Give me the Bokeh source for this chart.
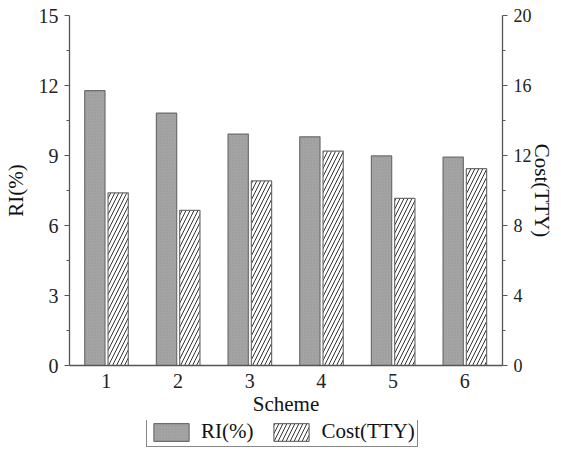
from bokeh.plotting import figure
from bokeh.models import Range1d, LinearAxis, FixedTicker, Legend, LegendItem, ColumnDataSource
from bokeh.layouts import column
from bokeh.transform import dodge
from bokeh.embed import file_html
from bokeh.resources import INLINE

schemes = [1, 2, 3, 4, 5, 6]
ri = [11.78, 10.82, 9.92, 9.8, 8.98, 8.93]
cost = [9.87, 8.87, 10.55, 12.25, 9.55, 11.25]

src = ColumnDataSource(dict(scheme=schemes, ri=ri, cost=cost))

FONT = "Liberation Serif"
RI_STYLE = dict(fill_color="#a6a6a6", line_color="#6e6e6e", line_width=1.2,
                hatch_pattern="x", hatch_color="#979797", hatch_scale=3, hatch_weight=0.5)
COST_STYLE = dict(fill_color="white", line_color="#6e6e6e", line_width=1.2,
                  hatch_pattern="/", hatch_color="#333333", hatch_scale=8, hatch_weight=1)

p = figure(width=561, height=420, output_backend="svg", toolbar_location=None,
           x_range=Range1d(0.486, 6.528), y_range=Range1d(0, 15),
           min_border_left=67, min_border_right=59, min_border_top=15, min_border_bottom=55,
           x_axis_location=None, y_axis_location=None)
p.outline_line_color = None
p.grid.visible = False
p.extra_y_ranges = {"cost": Range1d(0, 20)}

p.vbar(x=dodge("scheme", -0.16, range=p.x_range), top="ri", width=0.283, source=src, **RI_STYLE)
p.vbar(x=dodge("scheme", 0.165, range=p.x_range), top="cost", width=0.283, source=src,
       y_range_name="cost", **COST_STYLE)

def style(ax, size="20px"):
    ax.axis_line_color = "#555555"
    ax.axis_line_width = 1.3
    ax.major_tick_line_color = "#555555"
    ax.minor_tick_line_color = "#555555"
    ax.major_tick_out = 5
    ax.major_tick_in = 0
    ax.minor_tick_out = 3
    ax.minor_tick_in = 0
    ax.major_label_text_font = FONT
    ax.major_label_text_font_size = size
    ax.major_label_text_color = "#222222"
    ax.axis_label_text_font = FONT
    ax.axis_label_text_font_style = "normal"
    ax.axis_label_text_font_size = "21px"
    ax.axis_label_text_color = "#111111"

ly = LinearAxis(ticker=FixedTicker(ticks=[0, 3, 6, 9, 12, 15], minor_ticks=[1.5, 4.5, 7.5, 10.5, 13.5]),
                axis_label="RI(%)")
style(ly)
ly.major_label_standoff = 6
ly.axis_label_standoff = 8
p.add_layout(ly, "left")

ry = LinearAxis(y_range_name="cost", ticker=FixedTicker(ticks=[0, 4, 8, 12, 16, 20], minor_ticks=[2, 6, 10, 14, 18]),
                axis_label="Cost(TTY)")
style(ry, "18px")
ry.major_label_standoff = 6
ry.axis_label_standoff = -5
p.add_layout(ry, "right")

bx = LinearAxis(ticker=FixedTicker(ticks=schemes, minor_ticks=[]), axis_label="Scheme")
style(bx)
bx.major_tick_out = 0
bx.axis_label_standoff = 1
bx.major_label_standoff = 8
p.add_layout(bx, "below")

# legend panel below the chart (frames of the column are aligned with the chart's frame)
lf = figure(width=561, height=34, output_backend="svg", toolbar_location=None,
            x_range=Range1d(100, 101), y_range=Range1d(100, 101),
            min_border_left=0, min_border_right=0, min_border_top=0, min_border_bottom=0,
            x_axis_location=None, y_axis_location=None)
lf.outline_line_color = None
lf.grid.visible = False
d1 = lf.vbar(x="scheme", top="ri", width=0.1, source=src, **RI_STYLE)
d2 = lf.vbar(x="scheme", top="cost", width=0.1, source=src, **COST_STYLE)

legend = Legend(items=[LegendItem(label="RI(%)", renderers=[d1]),
                       LegendItem(label="Cost(TTY)", renderers=[d2])],
                orientation="horizontal", location=(77, 7),
                label_text_font=FONT, label_text_font_size="21px", label_text_color="#111111",
                label_height=22, label_text_baseline="middle",
                border_line_color="#111111", border_line_width=1.3,
                glyph_width=44, glyph_height=22, spacing=16, padding=2, margin=0,
                label_standoff=8)
lf.add_layout(legend, "center")

open("out.html", "w").write(file_html(column(p, lf, spacing=0), INLINE))
